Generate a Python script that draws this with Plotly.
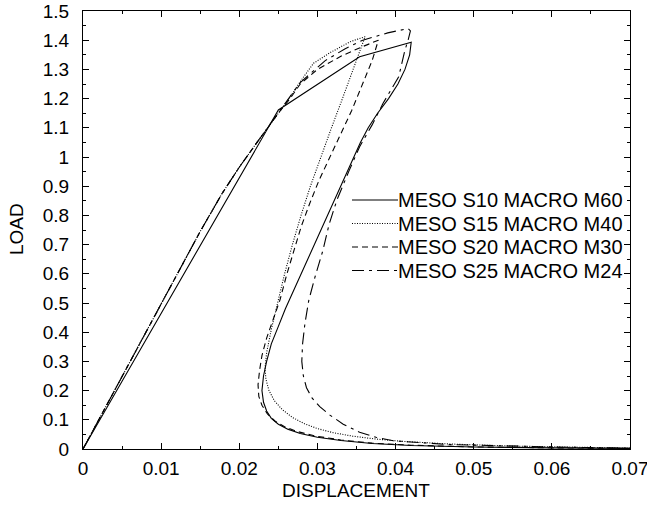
import plotly.graph_objects as go

# ---- data ----
s10_x = [0, 0.0250, 0.0354, 0.0420, 0.0418, 0.0412, 0.0403, 0.0391, 0.0377, 0.0365, 0.0355,
         0.0338, 0.0321, 0.0304, 0.0287, 0.0270, 0.0259, 0.0250, 0.0241, 0.0235, 0.0231,
         0.0229, 0.0231, 0.0235, 0.0241, 0.0250, 0.0262, 0.0278, 0.0300, 0.0330, 0.0370,
         0.0420, 0.0500, 0.0600, 0.0700]
s10_y = [0, 1.161, 1.3435, 1.393, 1.35, 1.30, 1.25, 1.20, 1.15, 1.10, 1.05,
         0.95, 0.85, 0.75, 0.65, 0.55, 0.48, 0.42, 0.36, 0.30, 0.25,
         0.20, 0.16, 0.13, 0.105, 0.085, 0.068, 0.053, 0.040, 0.029, 0.019,
         0.012, 0.007, 0.004, 0.002]

s15_x = [0, 0.005, 0.010, 0.015, 0.0178, 0.020, 0.022, 0.0235, 0.0250, 0.0265, 0.0278,
         0.0295, 0.0316, 0.0342, 0.0361, 0.0346, 0.0332, 0.0318, 0.0304, 0.0291, 0.0279,
         0.0268, 0.0258, 0.0249, 0.0241, 0.0235, 0.0233, 0.0234, 0.0238, 0.0245, 0.0255,
         0.0268, 0.0283, 0.0300, 0.0320, 0.0345, 0.0375, 0.0410, 0.0470, 0.0550, 0.0620, 0.0700]
s15_y = [0, 0.25, 0.50, 0.745, 0.875, 0.965, 1.04, 1.095, 1.150, 1.205, 1.258,
         1.321, 1.357, 1.395, 1.412, 1.30, 1.20, 1.10, 1.00, 0.90, 0.80,
         0.70, 0.60, 0.50, 0.41, 0.33, 0.28, 0.24, 0.20, 0.165, 0.135,
         0.108, 0.087, 0.070, 0.056, 0.044, 0.034, 0.026, 0.017, 0.010, 0.006, 0.003]

s20_x = [0, 0.005, 0.010, 0.015, 0.0178, 0.020, 0.022, 0.0235, 0.0250, 0.0265, 0.0278,
         0.0300, 0.0330, 0.0355, 0.0378, 0.0370, 0.0358, 0.0344, 0.0330, 0.0316, 0.0302,
         0.0290, 0.0279, 0.0270, 0.0261, 0.0252, 0.0243, 0.0235, 0.0229, 0.0226, 0.0224,
         0.0225, 0.0229, 0.0236, 0.0246, 0.0258, 0.0274, 0.0298, 0.0330, 0.0370, 0.0420,
         0.0500, 0.0600, 0.0700]
s20_y = [0, 0.25, 0.50, 0.745, 0.875, 0.965, 1.04, 1.095, 1.150, 1.20, 1.25,
         1.30, 1.345, 1.375, 1.400, 1.33, 1.25, 1.16, 1.08, 1.00, 0.92,
         0.84, 0.76, 0.68, 0.60, 0.51, 0.44, 0.38, 0.32, 0.27, 0.22,
         0.18, 0.15, 0.12, 0.095, 0.076, 0.060, 0.044, 0.031, 0.020, 0.013,
         0.007, 0.004, 0.002]

s25_x = [0, 0.005, 0.010, 0.015, 0.0178, 0.020, 0.022, 0.0235, 0.0250, 0.0265, 0.0278,
         0.0310, 0.0335, 0.0358, 0.0390, 0.0416, 0.0419, 0.0416, 0.0412, 0.0404, 0.0384,
         0.0370, 0.0354, 0.0340, 0.0325, 0.0315, 0.0307, 0.0297, 0.0289, 0.0284, 0.0281,
         0.0280, 0.0282, 0.0286, 0.0293, 0.0303, 0.0316, 0.0333, 0.0354, 0.0375, 0.0397,
         0.0470, 0.0550, 0.0620, 0.0700]
s25_y = [0, 0.25, 0.50, 0.745, 0.875, 0.965, 1.04, 1.095, 1.150, 1.205, 1.255,
         1.33, 1.37, 1.40, 1.425, 1.440, 1.432, 1.40, 1.366, 1.275, 1.184,
         1.11, 1.035, 0.95, 0.853, 0.77, 0.68, 0.59, 0.51, 0.43, 0.36,
         0.30, 0.25, 0.21, 0.175, 0.145, 0.116, 0.085, 0.057, 0.040, 0.028,
         0.015, 0.009, 0.006, 0.003]

series_names = ["MESO S10 MACRO M60", "MESO S15 MACRO M40",
                "MESO S20 MACRO M30", "MESO S25 MACRO M24"]
series_x = [s10_x, s15_x, s20_x, s25_x]
series_y = [s10_y, s15_y, s20_y, s25_y]
dashes = ["solid", "1px,1.5px", "6px,4px", "12px,5px,3px,5px"]

x_ticks = [0, 0.01, 0.02, 0.03, 0.04, 0.05, 0.06, 0.07]
x_tick_labels = ["0", "0.01", "0.02", "0.03", "0.04", "0.05", "0.06", "0.07"]
y_ticks = [0, 0.1, 0.2, 0.3, 0.4, 0.5, 0.6, 0.7, 0.8, 0.9, 1.0, 1.1, 1.2, 1.3, 1.4, 1.5]
y_tick_labels = ["0", "0.1", "0.2", "0.3", "0.4", "0.5", "0.6", "0.7", "0.8", "0.9",
                 "1", "1.1", "1.2", "1.3", "1.4", "1.5"]

x_title = "DISPLACEMENT"
y_title = "LOAD"

FONT = "Liberation Sans, Arial, Helvetica, sans-serif"

L, R, T, B = 83, 630, 11, 449          # plot area in pixels
W, H = 647, 506                        # figure size

fig = go.Figure()
for name, xs, ys, d in zip(series_names, series_x, series_y, dashes):
    fig.add_trace(go.Scatter(x=xs, y=ys, mode="lines", name=name, showlegend=False,
                             hoverinfo="skip",
                             line=dict(color="black", width=1.1, dash=d)))


def px(xp, yp):
    return (xp - L) / (R - L), (B - yp) / (B - T)


# manual legend (long sample lines as in the reference)
row_y = [200, 223.5, 247, 270.5]
for name, d, ry in zip(series_names, dashes, row_y):
    x0, y0 = px(352, ry)
    x1, _ = px(398, ry)
    fig.add_shape(type="line", xref="paper", yref="paper", x0=x0, x1=x1, y0=y0, y1=y0,
                  line=dict(color="black", width=1.1, dash=d))
    tx, _ = px(398, ry)
    fig.add_annotation(xref="paper", yref="paper", x=tx, y=y0, text=name, showarrow=False,
                       xanchor="left", yanchor="middle", xshift=-2,
                       font=dict(family=FONT, size=20, color="black"))

# axis titles
ax, ay = px(356, 490)
fig.add_annotation(xref="paper", yref="paper", x=ax, y=ay, text=x_title, showarrow=False,
                   xanchor="center", yanchor="middle", borderpad=0,
                   font=dict(family=FONT, size=19, color="black"))
lx, ly = px(16, 229)
fig.add_annotation(xref="paper", yref="paper", x=lx, y=ly, text=y_title, showarrow=False,
                   xanchor="center", yanchor="middle", textangle=-90, borderpad=0,
                   font=dict(family=FONT, size=19, color="black"))

axis_common = dict(showline=True, linecolor="black", linewidth=1, mirror="allticks",
                   ticks="inside", ticklen=6, tickcolor="black", tickwidth=1,
                   showgrid=False, zeroline=False, automargin=False,
                   ticklabeloverflow="allow",
                   tickfont=dict(family=FONT, size=19, color="black"))

fig.update_xaxes(range=[0, 0.07], tickvals=x_ticks, ticktext=x_tick_labels,
                 ticklabelstandoff=2,
                 minor=dict(ticks="inside", ticklen=3, dtick=0.005, tick0=0, tickcolor="black"),
                 **axis_common)
fig.update_yaxes(range=[0, 1.5], tickvals=y_ticks, ticktext=y_tick_labels,
                 ticklabelstandoff=9,
                 minor=dict(ticks="inside", ticklen=3, dtick=0.05, tick0=0, tickcolor="black"),
                 **axis_common)

fig.update_layout(width=W, height=H, plot_bgcolor="white", paper_bgcolor="white",
                  margin=dict(l=L, r=W - R, t=T, b=H - B, pad=0),
                  font=dict(family=FONT, color="black"), hovermode=False)

# remove the default 8px page margin so the 647x506 figure fills the window exactly
fig.write_html("out.html", config={"displayModeBar": False, "staticPlot": True},
               post_script="document.body.style.margin='0';document.body.style.overflow='hidden';")
